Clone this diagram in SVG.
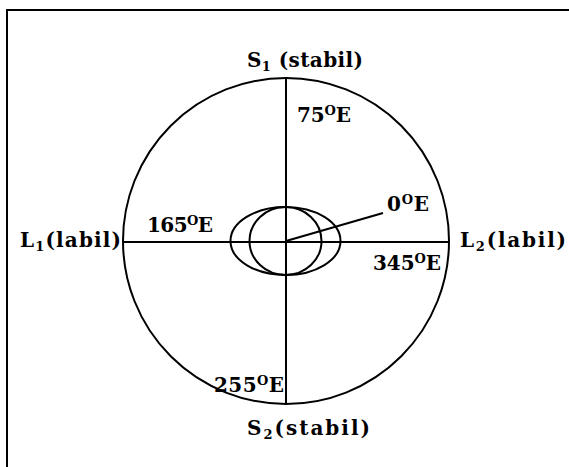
<svg xmlns="http://www.w3.org/2000/svg" width="569" height="467" viewBox="0 0 569 467">
<style>
.ln{fill:none;stroke:#000;stroke-width:2}
.t{font-family:"DejaVu Serif","Liberation Serif",serif;font-weight:bold;font-size:20px;fill:#000}
.sup{font-size:13px}
.sub{font-size:13px}
</style>
<rect x="0" y="0" width="569" height="467" fill="#fff"/>
<path class="ln" d="M7,467 V10 H569"/>
<g id="connectors">
<circle id="outer" class="ln" cx="286" cy="241" r="163"/>
<line class="ln" x1="286" y1="78" x2="286" y2="404"/>
<line class="ln" x1="123" y1="242" x2="449" y2="242"/>
<ellipse class="ln" cx="285.5" cy="241" rx="55" ry="34"/>
<ellipse class="ln" cx="285.5" cy="241" rx="36" ry="34"/>
<line class="ln" x1="286" y1="241" x2="383" y2="213" stroke-width="1.5"/>
</g>
<g id="S1"><text class="t" x="247" y="67" textLength="116" lengthAdjust="spacing">S<tspan class="sub" dy="4">1</tspan><tspan dy="-4"> (stabil)</tspan></text></g>
<g id="S2"><text class="t" x="247" y="435" textLength="123" lengthAdjust="spacing">S<tspan class="sub" dy="4">2</tspan><tspan dy="-4">(stabil)</tspan></text></g>
<g id="L1"><text class="t" x="20" y="247" textLength="101" lengthAdjust="spacing">L<tspan class="sub" dy="4">1</tspan><tspan dy="-4">(labil)</tspan></text></g>
<g id="L2"><text class="t" x="460" y="247" textLength="106" lengthAdjust="spacing">L<tspan class="sub" dy="4">2</tspan><tspan dy="-4">(labil)</tspan></text></g>
<g id="a75"><text class="t" x="297" y="122" textLength="54" lengthAdjust="spacing">75<tspan class="sup" dy="-7">O</tspan><tspan dy="7">E</tspan></text></g>
<g id="a0"><text class="t" x="387" y="211" textLength="42" lengthAdjust="spacing">0<tspan class="sup" dy="-7">O</tspan><tspan dy="7">E</tspan></text></g>
<g id="a165"><text class="t" x="147" y="232" textLength="66" lengthAdjust="spacing">165<tspan class="sup" dy="-7">O</tspan><tspan dy="7">E</tspan></text></g>
<g id="a345"><text class="t" x="373" y="270" textLength="68" lengthAdjust="spacing">345<tspan class="sup" dy="-7">O</tspan><tspan dy="7">E</tspan></text></g>
<g id="a255"><text class="t" x="214" y="392" textLength="70" lengthAdjust="spacing">255<tspan class="sup" dy="-7">O</tspan><tspan dy="7">E</tspan></text></g>
</svg>
